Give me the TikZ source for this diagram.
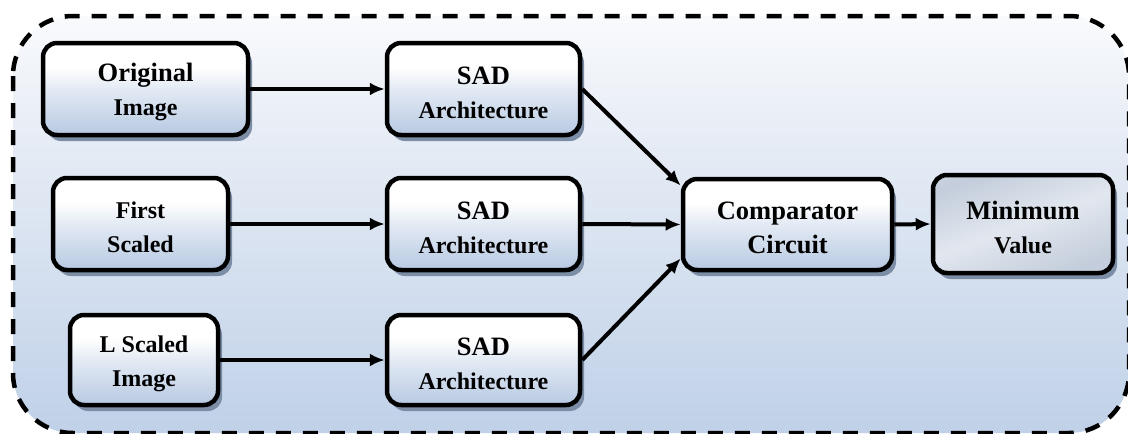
\documentclass[tikz,border=0pt]{standalone}
\usepackage{fontspec}
\setmainfont{Liberation Serif}
\usetikzlibrary{arrows.meta,shadows,calc}
\definecolor{boxblue}{HTML}{B7C9E2}
\definecolor{boxmid}{HTML}{E3EAF4}
\definecolor{bgblue}{HTML}{BACDE6}
\definecolor{bgmid}{HTML}{E6ECF5}
\definecolor{shadowc}{HTML}{7C8DA6}
\definecolor{minA}{HTML}{C3CDDB}
\definecolor{minB}{HTML}{E2E7EF}
\pgfdeclareverticalshading{boxshade}{100bp}{color(0bp)=(boxblue); color(25bp)=(boxblue); color(50bp)=(boxmid); color(62bp)=(white); color(100bp)=(white)}
\pgfdeclareverticalshading{bgshade}{100bp}{color(0bp)=(bgblue); color(20bp)=(bgblue); color(60bp)=(bgmid); color(80bp)=(white); color(100bp)=(white)}
\pgfdeclareverticalshading{minshade}{100bp}{color(0bp)=(minA); color(25bp)=(minA); color(50bp)=(minB); color(75bp)=(minA); color(100bp)=(minB)}
\newcommand{\lA}[1]{{\fontsize{26.5}{34}\selectfont\rule{0pt}{25pt}#1}}
\newcommand{\lB}[1]{{\fontsize{24}{34}\selectfont #1}}
\newcommand{\lC}[1]{{\fontsize{24}{34}\selectfont\rule{0pt}{24pt}#1}}
\begin{document}
\begin{tikzpicture}[x=1pt,y=-1pt,
  blk/.style={draw=black, line width=4.5pt, rounded corners=14pt, shading=boxshade,
    align=center, inner sep=0pt, font=\bfseries\fontsize{24}{34}\selectfont,
    drop shadow={shadow xshift=4pt, shadow yshift=-6pt, fill=shadowc, opacity=1}},
  minblk/.style={blk, shading=minshade, shading angle=20},
  conn/.style={line width=4pt, -{Latex[length=15pt,width=13pt]}}]
\useasboundingbox (0,0) rectangle (1128,434);
\shade[shading=bgshade] [rounded corners=60pt] (13,16) rectangle (1129,433);
\draw[line width=4.5pt, dash pattern=on 15pt off 12pt, rounded corners=60pt] (13,16) rectangle (1129,433);

\node[blk, minimum width=205pt, minimum height=92pt] (orig) at (145.5,89) {\lA{Original}\\\lB{Image}};
\node[blk, minimum width=175pt, minimum height=92pt] (first) at (140.5,224) {\lC{First}\\\lB{Scaled}};
\node[blk, minimum width=148pt, minimum height=90pt] (lsc) at (144,360) {\lC{L Scaled}\\\lB{Image}};
\node[blk, minimum width=193pt, minimum height=92pt] (sad1) at (483.5,89) {\lA{SAD}\\\lB{Architecture}};
\node[blk, minimum width=193pt, minimum height=92pt] (sad2) at (483.5,224) {\lA{SAD}\\\lB{Architecture}};
\node[blk, minimum width=193pt, minimum height=90pt] (sad3) at (483.5,360) {\lA{SAD}\\\lB{Architecture}};
\node[blk, minimum width=209pt, minimum height=91pt] (comp) at (787.5,224.5) {\lA{Comparator}\\\lA{Circuit}};
\node[minblk, minimum width=180pt, minimum height=98pt] (minv) at (1023,224) {\lA{Minimum}\\\lB{Value}};

\draw[conn] (orig.east) -- (sad1.west);
\draw[conn] (first.east) -- (sad2.west);
\draw[conn] (lsc.east) -- (sad3.west);
\draw[conn] (sad1.east) -- ([yshift=39pt]comp.west);
\draw[conn] (sad2.east) -- (comp.west);
\draw[conn] (sad3.east) -- ([yshift=-34pt]comp.west);
\draw[conn] (comp.east) -- (minv.west);
\end{tikzpicture}
\end{document}
